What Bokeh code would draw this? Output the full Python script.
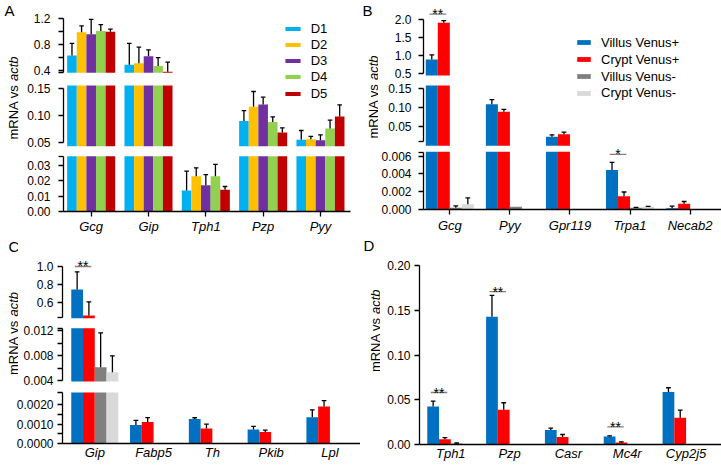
import math
import numpy as np
from bokeh.plotting import figure
from bokeh.layouts import row, column
from bokeh.models import (Range1d, FixedTicker, PrintfTickFormatter, Legend,
                          LegendItem, ColumnDataSource)
from bokeh.core.properties import value
from bokeh.embed import file_html
from bokeh.resources import INLINE

FONT = "Liberation Sans"

# ---------------- data ----------------
a_genes = ["Gcg", "Gip", "Tph1", "Pzp", "Pyy"]
a_names = ["D1", "D2", "D3", "D4", "D5"]
a_colors = ["#00B0F0", "#FFC000", "#7030A0", "#92D050", "#C00000"]
a_d1 = [0.63, 0.49, 0.0137, 0.090, 0.0555]
a_d1_err = [0.19, 0.33, 0.0126, 0.019, 0.017]
a_d2 = [0.99, 0.51, 0.0230, 0.116, 0.0566]
a_d2_err = [0.10, 0.25, 0.0055, 0.028, 0.005]
a_d3 = [0.96, 0.62, 0.0172, 0.120, 0.0548]
a_d3_err = [0.23, 0.10, 0.0068, 0.0135, 0.0098]
a_d4 = [1.01, 0.47, 0.0230, 0.088, 0.076]
a_d4_err = [0.10, 0.13, 0.0077, 0.0096, 0.0154]
a_d5 = [1.00, 0.38, 0.0142, 0.069, 0.098]
a_d5_err = [0.04, 0.15, 0.0021, 0.0085, 0.0216]

grp_names = ["Villus Venus+", "Crypt Venus+", "Villus Venus-", "Crypt Venus-"]
grp_colors = ["#0070C0", "#FF0000", "#808080", "#D9D9D9"]

b_genes = ["Gcg", "Pyy", "Gpr119", "Trpa1", "Necab2"]
b_vp = [0.88, 0.108, 0.023, 0.00445, 0.00015]
b_vp_err = [0.13, 0.0123, 0.0053, 0.00085, 0.00022]
b_cp = [1.91, 0.0884, 0.0299, 0.00148, 0.00064]
b_cp_err = [0.06, 0.0061, 0.0052, 0.00049, 0.00026]
b_vm = [0.0002, 0.0003, 0.00003, 0.0002, 0.0]
b_vm_err = [0.0002, 0.0, 0.0, 0.00005, 0.0]
b_cm = [0.0006, 0.0, 0.00003, 0.0003, 0.0]
b_cm_err = [0.0007, 0.0, 0.0, 0.00005, 0.0]
b_sig_gene = [0, 3]
b_sig_y = [2.15, 0.0062]
b_sig_text = ["**", "*"]

c_genes = ["Gip", "Fabp5", "Th", "Pkib", "Lpl"]
c_vp = [0.742, 0.00095, 0.00126, 0.00072, 0.00136]
c_vp_err = [0.198, 0.00024, 0.00007, 0.00016, 0.00038]
c_cp = [0.451, 0.00111, 0.00078, 0.00059, 0.00191]
c_cp_err = [0.153, 0.00023, 0.00022, 0.00010, 0.00031]
c_vm = [0.00616, 0.0, 0.0, 0.0, 0.0]
c_vm_err = [0.00547, 0.0, 0.0, 0.0, 0.0]
c_cm = [0.00537, 0.0, 0.0, 0.0, 0.0]
c_cm_err = [0.00261, 0.0, 0.0, 0.0, 0.0]
c_sig_gene = [0]
c_sig_y = [1.0]
c_sig_text = ["**"]

d_genes = ["Tph1", "Pzp", "Casr", "Mc4r", "Cyp2j5"]
d_vp = [0.0425, 0.143, 0.0161, 0.0090, 0.0587]
d_vp_err = [0.0061, 0.024, 0.0022, 0.0007, 0.0048]
d_cp = [0.0060, 0.0389, 0.0083, 0.0022, 0.0299]
d_cp_err = [0.0018, 0.0078, 0.0029, 0.0008, 0.0086]
d_vm = [0.0012, 0.0003, 0.0, 0.0, 0.0003]
d_vm_err = [0.0005, 0.0, 0.0, 0.0, 0.0]
d_cm = [0.0002, 0.0, 0.0, 0.0, 0.0]
d_cm_err = [0.0, 0.0, 0.0, 0.0, 0.0]
d_sig_gene = [0, 1, 3]
d_sig_y = [0.0582, 0.171, 0.0198]
d_sig_text = ["**", "**", "**"]


# ---------------- helpers ----------------
def make_fig(w, h, xr, yr, bl, br=0, bt=0, bb=0, xaxis=False):
    p = figure(width=w, height=h, x_range=Range1d(*xr), y_range=Range1d(*yr),
               output_backend="svg", toolbar_location=None,
               x_axis_location="below" if xaxis else None, y_axis_location="left",
               min_border_left=bl, min_border_right=br, min_border_top=bt,
               min_border_bottom=bb, outline_line_color=None,
               background_fill_color="white", border_fill_color="white")
    p.xgrid.visible = False
    p.ygrid.visible = False
    return p


def style_y(p, ticks, minor, bounds, fmt, standoff):
    ax = p.yaxis[0]
    ax.ticker = FixedTicker(ticks=ticks, minor_ticks=minor)
    ax.bounds = bounds
    ax.formatter = PrintfTickFormatter(format=fmt)
    ax.major_label_text_font = FONT
    ax.major_label_text_font_size = "12px"
    ax.major_label_text_color = "black"
    ax.major_label_standoff = standoff
    ax.axis_line_color = "black"
    ax.axis_line_width = 1.3
    ax.major_tick_line_color = "black"
    ax.major_tick_line_width = 1.3
    ax.minor_tick_line_color = "black"
    ax.minor_tick_line_width = 1.3
    ax.major_tick_in = 0
    ax.major_tick_out = 5
    ax.minor_tick_in = 0
    ax.minor_tick_out = 5


def style_x(p, genes, tick_out, standoff):
    ax = p.xaxis[0]
    ax.ticker = FixedTicker(ticks=list(range(len(genes))))
    ax.major_label_overrides = {i: g for i, g in enumerate(genes)}
    ax.major_label_text_font = FONT
    ax.major_label_text_font_size = "13px"
    ax.major_label_text_font_style = "italic"
    ax.major_label_text_color = "black"
    ax.major_label_standoff = standoff
    ax.axis_line_color = "black"
    ax.axis_line_width = 1.3
    ax.major_tick_line_color = "black"
    ax.major_tick_line_width = 1.3
    ax.major_tick_in = 0
    ax.major_tick_out = tick_out
    ax.minor_tick_in = 0
    ax.minor_tick_out = 0


def draw_bars(p, series, errs, colors, bw, base, thr, hi, cap=0.04):
    """bars of one axis segment: drawn from `base`, only for values above `thr`,
    cut at `hi` (the top of the segment)."""
    n_s = len(series)
    rends = []
    for k in range(n_s):
        v = np.array(series[k], dtype=float)
        e = np.array(errs[k], dtype=float)
        x = np.arange(len(v)) + (k - (n_s - 1) / 2.0) * bw
        top = np.where(v > thr, np.clip(v, base, hi), base)
        src = ColumnDataSource(dict(x=x, top=top))
        r = p.vbar(x="x", top="top", bottom=base, width=bw, source=src,
                   fill_color=colors[k], line_color=None)
        rends.append(r)
        y0 = np.clip(v, thr, hi)
        y1 = np.clip(v + e, thr, hi)
        m2 = (e > 0) & (y1 > y0)
        p.segment(x0=x[m2], y0=y0[m2], x1=x[m2], y1=y1[m2],
                  line_color="black", line_width=1.3)
        m3 = (e > 0) & (v + e > thr) & (v + e <= hi)
        p.segment(x0=x[m3] - cap, y0=(v + e)[m3], x1=x[m3] + cap, y1=(v + e)[m3],
                  line_color="black", line_width=1.3)
    return rends


def draw_sig(p, genes_idx, ys, texts, bw):
    xb = np.array(genes_idx, dtype=float) - 1.5 * bw
    xr = np.array(genes_idx, dtype=float) - 0.5 * bw
    p.segment(x0=xb - 0.04, y0=ys, x1=xr + 0.04, y1=ys,
              line_color="#808080", line_width=1.3)
    p.text(x=(xb + xr) / 2.0, y=ys, text=texts, text_align="center",
           text_baseline="alphabetic", text_font=value(FONT),
           text_font_size="14px", text_color="black")


def add_legend(p, rends, names, loc, gw, gh, lh):
    items = [LegendItem(label=nm, renderers=[r]) for nm, r in zip(names, rends)]
    lg = Legend(items=items, location=loc, orientation="vertical",
                glyph_width=gw, glyph_height=gh, label_height=lh,
                label_standoff=9, padding=0, margin=0, spacing=0,
                border_line_color=None, background_fill_alpha=0,
                label_text_font=FONT, label_text_font_size="13px",
                label_text_color="black")
    p.add_layout(lg)


def label_fig(w, h, letter, lx, base_x, center_y):
    # a narrow strip holding the panel letter and the rotated y title;
    # its ranges are in pixels of the strip
    p = figure(width=w, height=h, x_range=Range1d(0, w), y_range=Range1d(0, h),
               output_backend="svg", toolbar_location=None,
               x_axis_location=None, y_axis_location=None,
               min_border_left=0, min_border_right=0, min_border_top=0,
               min_border_bottom=0, outline_line_color=None,
               background_fill_color="white", border_fill_color="white")
    p.xgrid.visible = False
    p.ygrid.visible = False
    p.text(x=[lx], y=[h - 1], text=[letter], text_baseline="top", text_align="left",
           text_font=value(FONT), text_font_size="15px", text_color="black")
    split = center_y + 13.35
    p.text(x=[base_x], y=[split], text=["mRNA vs"], angle=math.pi / 2,
           text_align="right", text_baseline="alphabetic", text_font=value(FONT),
           text_font_size="13px", text_color="black")
    p.text(x=[base_x], y=[split + 3.6], text=["actb"], angle=math.pi / 2,
           text_align="left", text_baseline="alphabetic", text_font=value(FONT),
           text_font_size="13px", text_font_style="italic", text_color="black")
    return p


# ---------------- panel A ----------------
a_series = [a_d1, a_d2, a_d3, a_d4, a_d5]
a_errs = [a_d1_err, a_d2_err, a_d3_err, a_d4_err, a_d5_err]
a_bw = 0.1676
a_xr = (-0.483, 4.524)

A_top = make_fig(341, 83, a_xr, (0.19845, 1.4833), bl=44, br=10)
r = draw_bars(A_top, a_series, a_errs, a_colors, a_bw, 0.365, 0.365, 1.49)
style_y(A_top, [0.4, 0.8, 1.2], [0.365, 0.6, 1.0], (0.3649, 1.2), "%.1f", 8)
add_legend(A_top, r[:4], a_names[:4], (219.7, -1), 19, 5, 16)

A_mid = make_fig(341, 67, a_xr, (0.0359, 0.15861), bl=44, br=10)
r = draw_bars(A_mid, a_series, a_errs, a_colors, a_bw, 0.0435, 0.0435, 0.155)
style_y(A_mid, [0.05, 0.10, 0.15], [], (0.05, 0.15), "%.2f", 8)
add_legend(A_mid, r[4:], a_names[4:], (219.7, 48.3), 19, 5, 16)

A_bot = make_fig(360, 86, a_xr, (0, 0.03979), bl=63, br=10, bb=25, xaxis=True)
draw_bars(A_bot, a_series, a_errs, a_colors, a_bw, 0.0, 0.0, 0.036)
style_y(A_bot, [0.0, 0.01, 0.02, 0.03], [0.036], (0, 0.03601), "%.2f", 8)
style_x(A_bot, a_genes, 5, 2)

LA = label_fig(19, 150, "A", 4, 13.3, 52.5)
panelA = column(row(LA, column(A_top, A_mid)), A_bot)

# ---------------- panel B ----------------
b_series = [b_vp, b_cp, b_vm, b_cm]
b_errs = [b_vp_err, b_cp_err, b_vm_err, b_cm_err]
bw = 0.2
b_xr = (-0.438, 4.522)

B_top = make_fig(343, 83, b_xr, (0.2123, 2.5307), bl=45)
r = draw_bars(B_top, b_series, b_errs, grp_colors, bw, 0.436, 0.436, 2.6)
style_y(B_top, [0.5, 1.0, 1.5, 2.0], [], (0.5, 2.0), "%.1f", 7)
add_legend(B_top, r[:3], grp_names[:3], (152, -1.7), 17, 6, 17)
draw_sig(B_top, b_sig_gene[:1], b_sig_y[:1], b_sig_text[:1], bw)

B_mid = make_fig(343, 63, b_xr, (-0.00222, 0.16227), bl=45)
r = draw_bars(B_mid, b_series, b_errs, grp_colors, bw, 0.0, 0.0065, 0.157)
style_y(B_mid, [0.05, 0.10, 0.15], [0.012], (0.0119, 0.15), "%.2f", 7)
add_legend(B_mid, r[3:], grp_names[3:], (152, 44.8), 17, 6, 17)

B_bot = make_fig(361, 90, b_xr, (0, 0.007092), bl=63, bb=27, xaxis=True)
draw_bars(B_bot, b_series, b_errs, grp_colors, bw, 0.0, 0.0, 0.0065)
style_y(B_bot, [0.0, 0.002, 0.004, 0.006], [0.0064], (0, 0.00641), "%.3f", 7)
style_x(B_bot, b_genes, 5, 3)
draw_sig(B_bot, b_sig_gene[1:], b_sig_y[1:], b_sig_text[1:], bw)

LB = label_fig(18, 146, "B", 2, 13, 49.5)
panelB = column(row(LB, column(B_top, B_mid)), B_bot)

# ---------------- panel C ----------------
c_series = [c_vp, c_cp, c_vm, c_cm]
c_errs = [c_vp_err, c_cp_err, c_vm_err, c_cm_err]
c_xr = (-0.549, 4.520)

C_top = make_fig(342, 86, c_xr, (0.3725, 1.3361), bl=44)
draw_bars(C_top, c_series, c_errs, grp_colors, bw, 0.42, 0.42, 1.34)
style_y(C_top, [0.6, 0.8, 1.0], [0.432], (0.4319, 1.0), "%.1f", 4)
draw_sig(C_top, c_sig_gene, c_sig_y, c_sig_text, bw)

C_mid = make_fig(342, 66, c_xr, (0.002776, 0.013272), bl=44)
draw_bars(C_mid, c_series, c_errs, grp_colors, bw, 0.0039, 0.0039, 0.01237)
style_y(C_mid, [0.004, 0.008, 0.012], [0.006, 0.010, 0.0123], (0.00399, 0.01231), "%.3f", 4)

C_bot = make_fig(360, 79, c_xr, (0, 0.002842), bl=62, bb=24, xaxis=True)
draw_bars(C_bot, c_series, c_errs, grp_colors, bw, 0.0, 0.0, 0.00264)
style_y(C_bot, [0.0, 0.001, 0.002], [0.0005, 0.0015, 0.00264], (0, 0.002641), "%.4f", 4)
style_x(C_bot, c_genes, 0, 1)

LC = label_fig(18, 152, "C", 8, 13, 55)
panelC = column(row(LC, column(C_top, C_mid)), C_bot)

# ---------------- panel D ----------------
d_series = [d_vp, d_cp, d_vm, d_cm]
d_errs = [d_vp_err, d_cp_err, d_vm_err, d_cm_err]
d_xr = (-0.532, 4.602)

D = make_fig(341, 231, d_xr, (0, 0.2328), bl=39, bb=23, xaxis=True)
draw_bars(D, d_series, d_errs, grp_colors, bw, 0.0, 0.0, 0.24)
style_y(D, [0.0, 0.05, 0.10, 0.15, 0.20], [], (0, 0.2), "%.2f", 4)
style_x(D, d_genes, 0, 1)
draw_sig(D, d_sig_gene, d_sig_y, d_sig_text, bw)

LD = label_fig(20, 231, "D", 3, 15, 128)
panelD = row(LD, D)

layout = column(row(panelA, panelB), row(panelC, panelD))

open("out.html", "w").write(file_html(layout, INLINE))
